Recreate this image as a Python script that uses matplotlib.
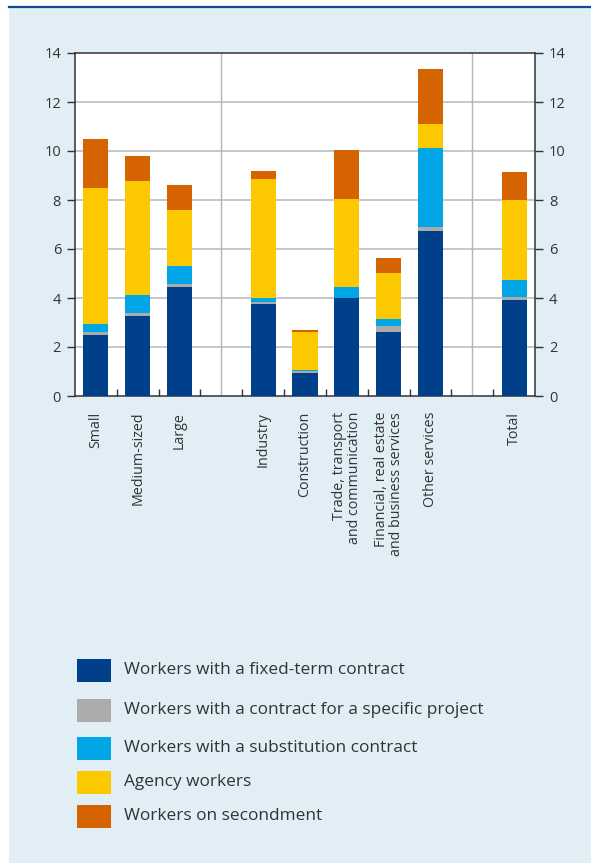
import numpy as np
import matplotlib.pyplot as plt
from matplotlib.patches import Rectangle
from matplotlib.lines import Line2D

plt.rcParams['font.family'] = ['Open Sans', 'DejaVu Sans']

categories = ['Small', 'Medium-sized', 'Large', '',
              'Industry', 'Construction', 'Trade, transport\nand communication',
              'Financial, real estate\nand business services', 'Other services', '',
              'Total']

# values per category (blank slots are gaps between groups)
fixed_term   = [2.50, 3.27, 4.45, 0, 3.76, 0.95, 3.98, 2.61, 6.74, 0, 3.92]
project      = [0.12, 0.12, 0.13, 0, 0.09, 0.08, 0.04, 0.25, 0.16, 0, 0.12]
substitution = [0.33, 0.74, 0.73, 0, 0.17, 0.05, 0.41, 0.27, 3.22, 0, 0.71]
agency       = [5.52, 4.63, 2.29, 0, 4.85, 1.53, 3.62, 1.90, 0.99, 0, 3.26]
secondment   = [2.04, 1.04, 1.02, 0, 0.32, 0.09, 2.01, 0.61, 2.25, 0, 1.14]

series_names = ['Workers with a fixed-term contract',
                'Workers with a contract for a specific project',
                'Workers with a substitution contract',
                'Agency workers',
                'Workers on secondment']
colors = ['#00408a', '#ababab', '#00a6e6', '#fcc800', '#d56300']

text_col = '#333333'
bg = '#e1eef6'

fig = plt.figure(figsize=(5.91, 8.63), dpi=100)
fig.patch.set_facecolor('white')
fig.add_artist(Rectangle((9/591, 0), 1 - 9/591, 1 - 8/863, transform=fig.transFigure,
                         facecolor=bg, edgecolor='none', zorder=0))
fig.add_artist(Line2D([9/591, 1], [1 - 7.5/863] * 2, transform=fig.transFigure,
                      color='#0a4d94', lw=1.6, zorder=1))

ax = fig.add_axes([75/591, 1 - 396/863, 460/591, 343/863])
ax.set_facecolor('white')

x = np.arange(len(categories))
series = [fixed_term, project, substitution, agency, secondment]
bottom = np.zeros(len(categories))
for vals, c in zip(series, colors):
    vals = np.array(vals)
    ax.bar(x, vals, 0.6, bottom=bottom, color=c, linewidth=0, zorder=3)
    bottom += vals

ax.set_xlim(-0.5, len(categories) - 0.5)
ax.set_ylim(0, 14)
ax.set_yticks(range(0, 15, 2))
for yv in range(2, 14, 2):
    ax.axhline(yv, color='#bdbdbd', lw=1.2, zorder=1)
for sep in [3, 9]:
    ax.axvline(sep, color='#b5b5b5', lw=1.0, zorder=1)

ax.set_xticks(np.arange(0.5, len(categories) - 1, 1))
ax.set_xticklabels([])
ax.tick_params(axis='x', direction='in', length=5, width=1, color='#333333')
ax.tick_params(axis='y', direction='out', length=6, width=1, color='#333333',
               labelsize=10.5, labelcolor=text_col, pad=4,
               left=True, right=True, labelleft=True, labelright=True)
for s in ax.spines.values():
    s.set_color('#333333')
    s.set_linewidth(1.1)

for xi, lab in zip(x, categories):
    if lab:
        ax.text(xi, -0.65, lab, rotation=90, ha='center', va='top',
                multialignment='right', fontsize=10.3, color=text_col,
                transform=ax.transData, linespacing=1.0)

# legend
leg_y = [670, 710, 748, 782, 816]
for yy, name, c in zip(leg_y, series_names, colors):
    fig.add_artist(Rectangle((77/591, 1 - (yy + 11.5)/863), 34/591, 23/863,
                             transform=fig.transFigure, facecolor=c, edgecolor='none'))
    fig.text(124/591, 1 - yy/863, name, ha='left', va='center',
             fontsize=12.4, color=text_col)

fig.savefig('out.png', dpi=100, facecolor=fig.get_facecolor())
